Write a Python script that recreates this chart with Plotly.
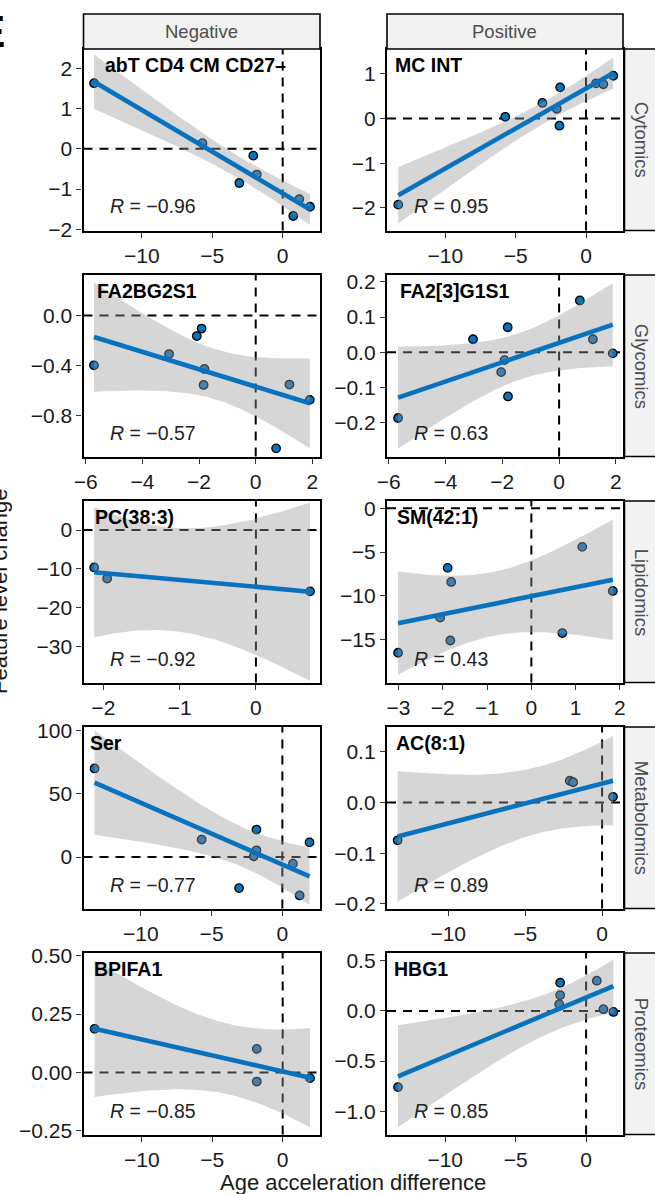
import numpy as np
import plotly.graph_objects as go

# ---------------- data ----------------
panel_titles = ["abT CD4 CM CD27–", "MC INT", "FA2BG2S1", "FA2[3]G1S1", "PC(38:3)",
                "SM(42:1)", "Ser", "AC(8:1)", "BPIFA1", "HBG1"]
column_labels = ["Negative", "Positive"]
row_labels = ["Cytomics", "Glycomics", "Lipidomics", "Metabolomics", "Proteomics"]
r_values = [-0.96, 0.95, -0.57, 0.63, -0.92, 0.43, -0.77, 0.89, -0.85, 0.85]

x_cytomics_neg = [-13.40, -5.70, -3.08, -2.09, -1.84, 0.75, 1.18, 1.94]
y_cytomics_neg = [1.63, 0.14, -0.85, -0.17, -0.64, -1.67, -1.25, -1.44]

x_cytomics_pos = [-13.35, -5.74, -3.10, -2.08, -1.89, -1.84, 0.71, 1.23, 1.94]
y_cytomics_pos = [-1.93, 0.04, 0.35, 0.22, -0.16, 0.70, 0.79, 0.77, 0.96]

x_glycomics_neg = [-5.71, -3.06, -2.08, -1.91, -1.81, -1.84, 0.72, 1.19, 1.91]
y_glycomics_neg = [-0.398, -0.308, -0.164, -0.104, -0.427, -0.555, -1.062, -0.552, -0.674]

x_glycomics_pos = [-5.67, -3.03, -1.81, -1.92, -2.04, -1.80, 0.73, 1.19, 1.89]
y_glycomics_pos = [-0.186, 0.037, 0.071, -0.022, -0.056, -0.125, 0.147, 0.037, -0.003]

x_lipidomics_neg = [-2.12, -1.95, 0.71]
y_lipidomics_neg = [-9.64, -12.5, -15.8]

x_lipidomics_pos = [-3.01, -1.89, -1.81, -2.06, -1.83, 0.70, 1.15, 1.84]
y_lipidomics_pos = [-16.5, -6.80, -8.41, -12.49, -15.1, -14.25, -4.40, -9.44]

x_metabolomics_neg = [-13.27, -5.70, -1.83, -1.83, -2.02, -3.06, 0.75, 1.22, 1.92]
y_metabolomics_neg = [69.9, 13.8, 21.7, 5.3, 0.6, -24.5, -5.2, -30.3, 11.6]

x_metabolomics_pos = [-13.29, -2.10, -1.88, 0.71]
y_metabolomics_pos = [-0.0745, 0.043, 0.040, 0.0113]

x_proteomics_neg = [-13.36, -1.84, -1.84, 1.94]
y_proteomics_neg = [0.187, 0.101, -0.039, -0.0245]

x_proteomics_pos = [-13.35, -1.84, -1.84, -1.91, 0.76, 1.23, 1.94]
y_proteomics_pos = [-0.759, 0.281, 0.157, 0.067, 0.301, 0.017, -0.010]

panel_x = [x_cytomics_neg, x_cytomics_pos, x_glycomics_neg, x_glycomics_pos,
           x_lipidomics_neg, x_lipidomics_pos, x_metabolomics_neg, x_metabolomics_pos,
           x_proteomics_neg, x_proteomics_pos]
panel_y = [y_cytomics_neg, y_cytomics_pos, y_glycomics_neg, y_glycomics_pos,
           y_lipidomics_neg, y_lipidomics_pos, y_metabolomics_neg, y_metabolomics_pos,
           y_proteomics_neg, y_proteomics_pos]

# axis settings per panel
x_ranges = [[-14.15, 2.65], [-14.15, 2.63], [-6.08, 2.27], [-6.06, 2.25], [-2.26, 0.84],
            [-3.26, 2.07], [-14.05, 2.66], [-13.98, 1.36], [-14.15, 2.65], [-14.13, 2.62]]
y_ranges = [[-2.03, 2.48], [-2.51, 1.56], [-1.127, 0.324], [-0.295, 0.219], [-39.3, 7.5],
            [-19.9, 0.84], [-40.6, 102.6], [-0.209, 0.149], [-0.266, 0.512], [-1.231, 0.577]]
x_dticks = [5, 5, 2, 2, 1, 1, 5, 5, 5, 5]
y_dticks = [1, 1, 0.4, 0.1, 10, 5, 50, 0.1, 0.25, 0.5]
y_formats = ["d", "d", ".1f", ".1f", "d", "d", "d", ".1f", ".2f", ".1f"]
title_dx_px = [19, 6, 11, 11, 9, 8, 4, 7, 8, 5]

T975 = {1: 12.706, 2: 4.303, 3: 3.182, 4: 2.776, 5: 2.571, 6: 2.447, 7: 2.365, 8: 2.306}

# ---------------- geometry ----------------
W, H = 655, 1194
col_px = [(83.5, 320.0), (387.0, 623.0)]
row_tops = [49.0, 275.0, 501.0, 727.0, 953.0]
panel_h = 181.5
strip_w = 35.0

FONT = "Liberation Sans, Arial, Helvetica, sans-serif"
BLUE = "#0A72BA"
LINE_BLUE = "#0872BE"


def px(xp):
    return xp / W


def py(yp):
    return 1 - yp / H


def lm_band(x, y, n=80):
    x = np.asarray(x, float)
    y = np.asarray(y, float)
    b, a = np.polyfit(x, y, 1)
    grid = np.linspace(x.min(), x.max(), n)
    fit = a + b * grid
    resid = y - (a + b * x)
    dof = len(x) - 2
    s = np.sqrt(np.sum(resid ** 2) / dof)
    sxx = np.sum((x - x.mean()) ** 2)
    se = s * np.sqrt(1.0 / len(x) + (grid - x.mean()) ** 2 / sxx)
    t = T975[dof]
    return grid, fit, fit - t * se, fit + t * se


fig = go.Figure()
shapes = []
annotations = []
layout_axes = {}

for i in range(10):
    r, c = divmod(i, 2)
    k = i + 1
    xa = "x" if k == 1 else f"x{k}"
    ya = "y" if k == 1 else f"y{k}"
    x0p, x1p = col_px[c]
    top = row_tops[r]
    bot = top + panel_h

    layout_axes["xaxis" if k == 1 else f"xaxis{k}"] = dict(
        domain=[px(x0p), px(x1p)], anchor=ya, range=x_ranges[i], automargin=False,
        dtick=x_dticks[i], tick0=0, showgrid=False, zeroline=False,
        showline=True, mirror=True, linecolor="black", linewidth=2.4,
        ticks="outside", ticklen=5, tickwidth=1.4, tickcolor="#333333",
        tickfont=dict(family=FONT, size=21, color="#1a1a1a"), fixedrange=True)
    layout_axes["yaxis" if k == 1 else f"yaxis{k}"] = dict(
        domain=[py(bot), py(top)], anchor=xa, range=y_ranges[i], automargin=False,
        dtick=y_dticks[i], tick0=0, tickformat=y_formats[i],
        showgrid=False, zeroline=False,
        showline=True, mirror=True, linecolor="black", linewidth=2.4,
        ticks="outside", ticklen=5, tickwidth=1.4, tickcolor="#333333",
        tickfont=dict(family=FONT, size=21, color="#1a1a1a"), fixedrange=True)

    # reference dashed lines (below traces)
    shapes.append(dict(type="line", layer="below", xref=f"{xa} domain", yref=ya,
                       x0=0, x1=1, y0=0, y1=0,
                       line=dict(color="black", width=2, dash="9px,7px")))
    shapes.append(dict(type="line", layer="below", xref=xa, yref=f"{ya} domain",
                       x0=0, x1=0, y0=0, y1=1,
                       line=dict(color="black", width=2, dash="9px,7px")))

    xs, ys = panel_x[i], panel_y[i]
    fig.add_trace(go.Scatter(x=xs, y=ys, mode="markers", xaxis=xa, yaxis=ya,
                             marker=dict(size=8.5, color=BLUE,
                                         line=dict(color="black", width=1.3)),
                             showlegend=False, hoverinfo="skip"))
    grid, fit, lo, hi = lm_band(xs, ys)
    fig.add_trace(go.Scatter(x=np.concatenate([grid, grid[::-1]]),
                             y=np.concatenate([hi, lo[::-1]]),
                             mode="lines", fill="toself",
                             fillcolor="rgba(153,153,153,0.4)",
                             line=dict(width=0), xaxis=xa, yaxis=ya,
                             showlegend=False, hoverinfo="skip"))
    fig.add_trace(go.Scatter(x=grid, y=fit, mode="lines", xaxis=xa, yaxis=ya,
                             line=dict(color=LINE_BLUE, width=4.6),
                             showlegend=False, hoverinfo="skip"))

    # panel title
    annotations.append(dict(text=f"<b>{panel_titles[i]}</b>", xref="paper", yref="paper",
                            x=px(x0p + title_dx_px[i]), y=py(top + 16),
                            xanchor="left", yanchor="middle", showarrow=False,
                            font=dict(family=FONT, size=19.5, color="black")))
    # correlation label
    rv = r_values[i]
    rtxt = f"{abs(rv):.2f}"
    rtxt = ("−" + rtxt) if rv < 0 else rtxt
    annotations.append(dict(text=f"<i>R</i> = {rtxt}", xref="paper", yref="paper",
                            x=px(x0p + 24.5), y=py(bot - 24),
                            xanchor="left", yanchor="middle", showarrow=False,
                            font=dict(family=FONT, size=19.5, color="#222222")))

# top strips
for c in range(2):
    x0p, x1p = col_px[c]
    shapes.append(dict(type="rect", xref="paper", yref="paper",
                       x0=px(x0p), x1=px(x1p), y0=py(49), y1=py(14),
                       fillcolor="#F2F2F2", line=dict(color="black", width=1.6), layer="above"))
    annotations.append(dict(text=column_labels[c], xref="paper", yref="paper",
                            x=px((x0p + x1p) / 2), y=py(31.5), xanchor="center",
                            yanchor="middle", showarrow=False,
                            font=dict(family=FONT, size=18.5, color="#4D4D4D")))

# right strips
for r in range(5):
    top = row_tops[r]
    bot = top + panel_h
    x0s = col_px[1][1] + 1.5
    shapes.append(dict(type="rect", xref="paper", yref="paper",
                       x0=px(x0s), x1=px(x0s + strip_w), y0=py(bot), y1=py(top),
                       fillcolor="#F2F2F2", line=dict(color="black", width=1.6), layer="above"))
    annotations.append(dict(text=row_labels[r], xref="paper", yref="paper",
                            x=px(x0s + strip_w / 2 - 1), y=py((top + bot) / 2), xanchor="center",
                            yanchor="middle", textangle=90, showarrow=False,
                            font=dict(family=FONT, size=18.5, color="#4D4D4D")))

# axis titles
annotations.append(dict(text="Age acceleration difference", xref="paper", yref="paper",
                        x=px((col_px[0][0] + col_px[1][1]) / 2), y=py(1182),
                        xanchor="center", yanchor="middle", showarrow=False,
                        font=dict(family=FONT, size=22, color="#1a1a1a")))
annotations.append(dict(text="Feature level change", xref="paper", yref="paper",
                        x=px(-1), y=py(592), xanchor="center", yanchor="middle",
                        textangle=-90, showarrow=False,
                        font=dict(family=FONT, size=22, color="#1a1a1a")))
# panel letter
annotations.append(dict(text="<b>E</b>", xref="paper", yref="paper",
                        x=px(7), y=py(31), xanchor="right", yanchor="middle",
                        showarrow=False, font=dict(family=FONT, size=44, color="black")))

fig.update_layout(width=W, height=H, margin=dict(l=0, r=0, t=0, b=0, autoexpand=False),
                  paper_bgcolor="white", plot_bgcolor="white",
                  shapes=shapes, annotations=annotations, showlegend=False,
                  **layout_axes)

fig.write_html("out.html", config={"displayModeBar": False},
               post_script="document.body.style.margin='0';document.body.style.overflow='hidden';")
